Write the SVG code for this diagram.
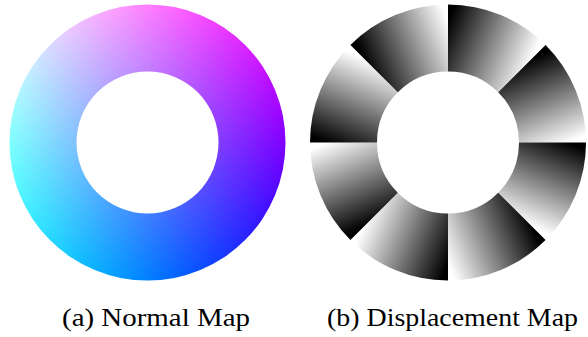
<svg xmlns="http://www.w3.org/2000/svg" xmlns:xlink="http://www.w3.org/1999/xlink" width="588" height="337" viewBox="0 0 588 337">
  <style>
    .screen { mix-blend-mode: screen; }
  </style>
  <defs>
    <linearGradient id="gH" gradientUnits="userSpaceOnUse" x1="10" y1="0" x2="285" y2="0">
      <stop offset="0" stop-color="rgb(0,255,255)"/>
      <stop offset="1" stop-color="rgb(0,0,255)"/>
    </linearGradient>
    <linearGradient id="gV" gradientUnits="userSpaceOnUse" x1="0" y1="5" x2="0" y2="281">
      <stop offset="0" stop-color="rgb(255,0,0)"/>
      <stop offset="1" stop-color="rgb(0,0,0)"/>
    </linearGradient>
    <linearGradient id="gSeg" gradientUnits="userSpaceOnUse" x1="-48.8" y1="-20.2" x2="48.8" y2="20.2">
      <stop offset="0.06" stop-color="#000"/>
      <stop offset="0.94" stop-color="#fff"/>
    </linearGradient>
    <clipPath id="ringClip">
      <path clip-rule="evenodd" d="M9.5,142.5 a138,138 0 1,0 276,0 a138,138 0 1,0 -276,0 Z M76.5,142.5 a71,71 0 1,0 142,0 a71,71 0 1,0 -142,0 Z"/>
    </clipPath>
    <path id="seg" fill="url(#gSeg)" d="M0,-138 A138,138 0 0 1 97.58,-97.58 L50.20,-50.20 A71,71 0 0 0 0,-71 Z"/>
  </defs>

  <g id="normal-map" clip-path="url(#ringClip)">
    <g style="isolation:isolate">
      <rect x="5" y="0" width="285" height="290" fill="url(#gH)"/>
      <rect x="5" y="0" width="285" height="290" fill="url(#gV)" class="screen"/>
    </g>
  </g>

  <g id="displacement-map" transform="translate(448,142.5)">
    <use href="#seg" xlink:href="#seg" transform="rotate(0)"/>
    <use href="#seg" xlink:href="#seg" transform="rotate(45)"/>
    <use href="#seg" xlink:href="#seg" transform="rotate(90)"/>
    <use href="#seg" xlink:href="#seg" transform="rotate(135)"/>
    <use href="#seg" xlink:href="#seg" transform="rotate(180)"/>
    <use href="#seg" xlink:href="#seg" transform="rotate(225)"/>
    <use href="#seg" xlink:href="#seg" transform="rotate(270)"/>
    <use href="#seg" xlink:href="#seg" transform="rotate(315)"/>
  </g>

  <g id="captions" font-family="'Liberation Serif', 'Times New Roman', 'DejaVu Serif', serif" font-size="25" fill="#000" text-anchor="middle">
    <text x="156" y="326" textLength="188" lengthAdjust="spacingAndGlyphs">(a) Normal Map</text>
    <text x="452.5" y="326" textLength="251" lengthAdjust="spacingAndGlyphs">(b) Displacement Map</text>
  </g>
</svg>
